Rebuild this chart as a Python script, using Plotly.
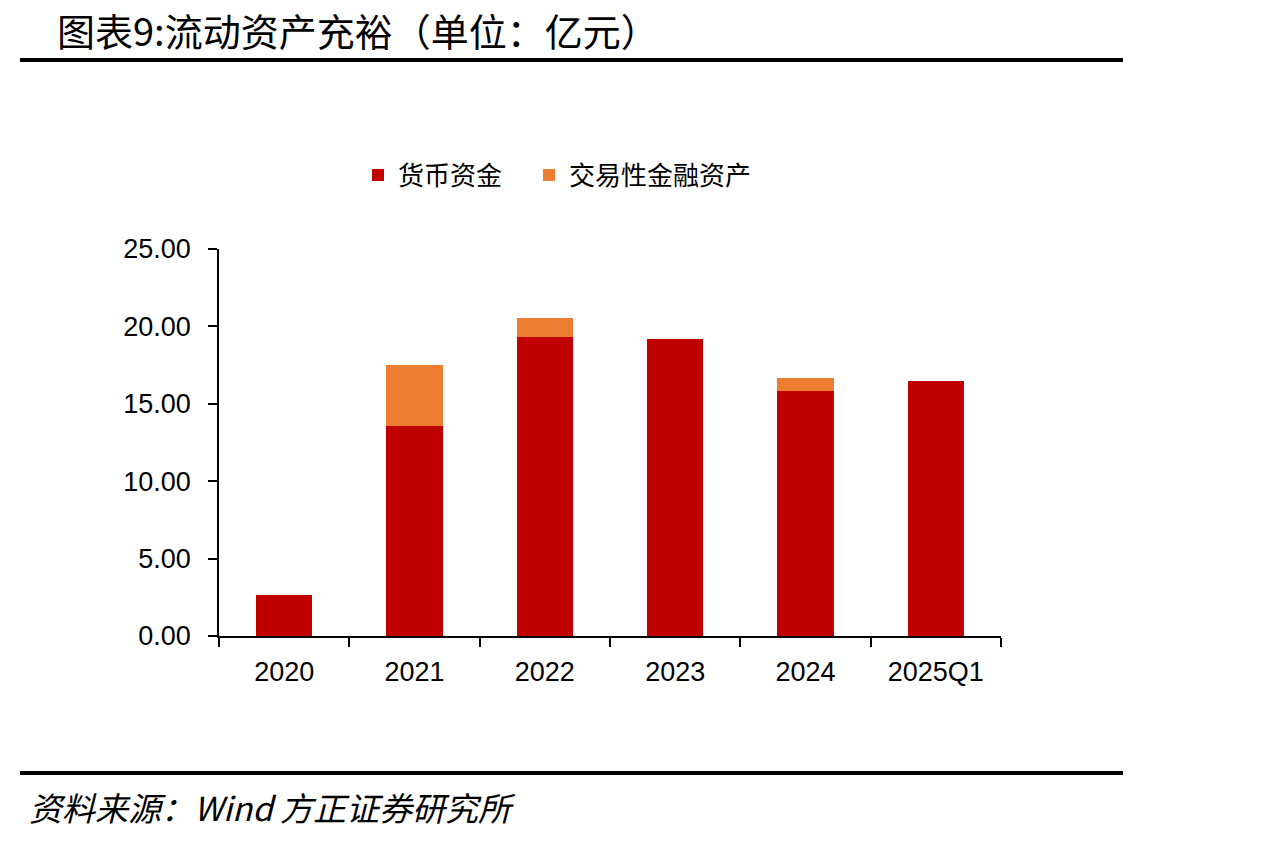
import plotly.graph_objects as go

categories = ["2020", "2021", "2022", "2023", "2024", "2025Q1"]
cash = [2.65, 13.57, 19.29, 19.19, 15.85, 16.45]
trading_assets = [0.0, 3.92, 1.23, 0.0, 0.80, 0.0]
y_ticks = [0, 5, 10, 15, 20, 25]
y_tick_labels = ["0.00", "5.00", "10.00", "15.00", "20.00", "25.00"]

title_text = "图表9:流动资产充裕（单位：亿元）"
source_text = "资料来源：Wind 方正证券研究所"

CJK = "Noto Sans CJK SC"
LAT = "Liberation Sans, Arial"

fig = go.Figure()
fig.add_trace(go.Bar(
    x=categories, y=cash, name="货币资金",
    marker=dict(color="#C00000", line=dict(width=0)),
    width=0.43, legend="legend",
))
fig.add_trace(go.Bar(
    x=categories, y=trading_assets, name="交易性金融资产",
    marker=dict(color="#ED7D31", line=dict(width=0)),
    width=0.43, legend="legend2",
))

# plot area px: x 219..1001, y 249..636
L, R, T, B = 219, 1001, 249, 636
W, H = 1261, 843

def px_x(p):
    return (p - L) / (R - L)

def px_y(p):
    return (B - p) / (B - T)

legend_common = dict(
    orientation="h",
    xanchor="left",
    y=px_y(175), yanchor="middle",
    font=dict(family=CJK, size=26, color="#000000"),
    itemsizing="constant",
    itemwidth=30,
    bgcolor="rgba(0,0,0,0)",
)

fig.update_layout(
    barmode="stack",
    width=W, height=H, autosize=False,
    margin=dict(l=L, r=W - R, t=T, b=H - B, pad=0),
    paper_bgcolor="white", plot_bgcolor="white",
    showlegend=True,
    legend=dict(x=px_x(358), **legend_common),
    legend2=dict(x=px_x(529), **legend_common),
    bargap=0.57,
)

fig.update_xaxes(
    type="category",
    showline=True, linecolor="#000000", linewidth=1.5,
    ticks="outside", ticklen=9, tickcolor="#000000", tickwidth=1.5,
    tickson="boundaries",
    tickfont=dict(family=LAT, size=27, color="#000000"),
    showgrid=False, zeroline=False,
    ticklabelstandoff=11,
)
fig.update_yaxes(
    range=[0, 25],
    tickvals=y_ticks, ticktext=y_tick_labels,
    showline=True, linecolor="#000000", linewidth=1.5,
    ticks="outside", ticklen=9, tickcolor="#000000", tickwidth=1.5,
    tickfont=dict(family=LAT, size=27, color="#000000"),
    showgrid=False, zeroline=False,
    ticklabelstandoff=12,
)

# title and source
fig.add_annotation(
    text=title_text, xref="paper", yref="paper",
    x=px_x(55), y=px_y(29), xanchor="left", yanchor="middle",
    showarrow=False, font=dict(family=CJK, size=38, color="#000000"),
)
fig.add_annotation(
    text="<i>" + source_text + "</i>", xref="paper", yref="paper",
    x=px_x(27), y=px_y(807), xanchor="left", yanchor="middle",
    showarrow=False, font=dict(family=CJK, size=33, color="#000000"),
)
# rules
for yy in (60, 773):
    fig.add_shape(
        type="line", xref="paper", yref="paper",
        x0=px_x(20), x1=px_x(1123), y0=px_y(yy), y1=px_y(yy),
        line=dict(color="#000000", width=4),
    )

fig.write_html("out.html")
